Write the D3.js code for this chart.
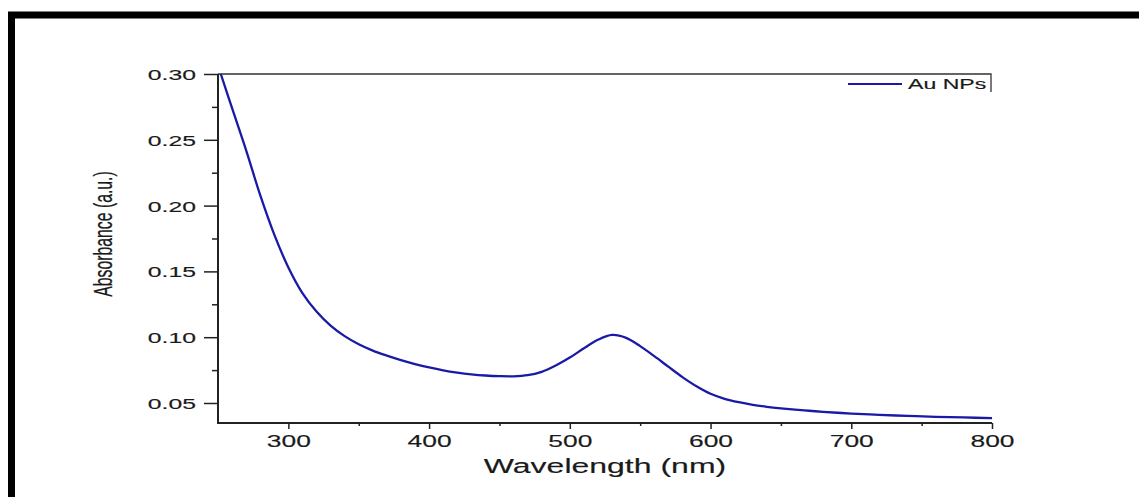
<!DOCTYPE html>
<html>
<head>
<meta charset="utf-8">
<script src="https://cdn.jsdelivr.net/npm/d3@7"></script>
<style>
  html, body { margin: 0; padding: 0; background: #fff; }
  svg { display: block; font-family: "Liberation Sans", Arial, sans-serif; }
</style>
</head>
<body>
<div id="chart"></div>
<script>
// spectrum
const wavelengths = [252, 260, 270, 280, 290, 300, 310, 320, 330, 340, 350, 360, 370, 380, 390, 400,
  410, 420, 430, 440, 450, 460, 470, 480, 490, 500, 510, 520, 530, 540, 550, 560, 570, 580, 590, 600,
  610, 620, 630, 640, 650, 660, 670, 680, 690, 700, 720, 740, 760, 780, 800];
const absorbance = [0.300, 0.274, 0.242, 0.208, 0.178, 0.153, 0.1335, 0.1195, 0.1088, 0.1008, 0.0946,
  0.0898, 0.0860, 0.0826, 0.0796, 0.0770, 0.0748, 0.0731, 0.0718, 0.0709, 0.0704, 0.0703, 0.0711,
  0.0737, 0.0785, 0.0845, 0.0916, 0.0980, 0.1017, 0.0995, 0.0932, 0.0856, 0.0776, 0.0697, 0.0627,
  0.0570, 0.0532, 0.0506, 0.0486, 0.0471, 0.0459, 0.0449, 0.0441, 0.0433, 0.0426, 0.0420, 0.0410,
  0.0402, 0.0395, 0.0390, 0.0385];

const xTicks = [300, 400, 500, 600, 700, 800];
const xMinorTicks = [350, 450, 550, 650, 750];
const yTicks = [0.05, 0.10, 0.15, 0.20, 0.25, 0.30];
const yMinorTicks = [0.075, 0.125, 0.175, 0.225, 0.275];

const seriesLabel = "Au NPs";
const xTitle = "Wavelength (nm)";
const yTitle = "Absorbance (a.u.)";

const width = 1139;
const height = 497;
const SX = 1.65; // the source picture is stretched sideways
const lineColor = "#1a1aa6";
const textColor = "#1a1a1a";

const svg = d3.select("#chart")
  .append("svg")
  .attr("width", width)
  .attr("height", height);

// cropped black frame (top and left only)
svg.append("path")
  .attr("d", `M11.5,497 V15 H1139`)
  .attr("fill", "none")
  .attr("stroke", "#000")
  .attr("stroke-width", 7);

const plot = { left: 218, right: 992, top: 74, bottom: 423 };

const x = d3.scaleLinear().domain([250, 800]).range([plot.left, plot.right]);
const y = d3.scaleLinear().domain([0.0348, 0.30]).range([plot.bottom, plot.top]);

const styleText = (sel, size) => sel
  .attr("fill", textColor)
  .attr("stroke", textColor)
  .attr("stroke-width", 0.15)
  .attr("font-size", size)
  .attr("font-family", "Liberation Sans, Arial, sans-serif");

// frame line at top and the short right edge by the legend
svg.append("path")
  .attr("d", `M${plot.left},${plot.top} H${plot.right - 1} V${plot.top + 18}`)
  .attr("fill", "none")
  .attr("stroke", "#333")
  .attr("stroke-width", 1.3);

// y axis
svg.append("g")
  .attr("transform", `translate(${plot.left},0)`)
  .call(d3.axisLeft(y).tickValues(yTicks).tickSize(14).tickFormat(d3.format(".2f")))
  .call((g) => g.select(".domain").attr("stroke", "#222").attr("stroke-width", 2)
    .attr("d", `M0,${plot.top}V${plot.bottom + 1}`))
  .call((g) => g.selectAll(".tick line").attr("stroke", "#222").attr("stroke-width", 1.5))
  .call((g) => g.selectAll(".tick text")
    .attr("x", -22 / SX)
    .attr("dy", "0.36em")
    .attr("transform", `scale(${SX},1)`)
    .call(styleText, 15));

svg.append("g")
  .attr("transform", `translate(${plot.left},0)`)
  .call(d3.axisLeft(y).tickValues(yMinorTicks).tickSize(6).tickFormat(""))
  .call((g) => g.select(".domain").remove())
  .call((g) => g.selectAll(".tick line").attr("stroke", "#222").attr("stroke-width", 1.5));

// x axis: labels are stretched around their own centre
svg.append("g")
  .attr("transform", `translate(0,${plot.bottom})`)
  .call(d3.axisBottom(x).tickValues(xTicks).tickSize(6).tickFormat(d3.format("d")))
  .call((g) => g.select(".domain").attr("stroke", "#222").attr("stroke-width", 2)
    .attr("d", `M${plot.left - 1},0H${plot.right}`))
  .call((g) => g.selectAll(".tick line").attr("stroke", "#222").attr("stroke-width", 1.5))
  .call((g) => g.selectAll(".tick text")
    .attr("y", 12.6)
    .attr("x", 0)
    .attr("transform", `scale(${SX},1)`)
    .call(styleText, 16));

svg.append("g")
  .attr("transform", `translate(0,${plot.bottom})`)
  .call(d3.axisBottom(x).tickValues(xMinorTicks).tickSize(3).tickFormat(""))
  .call((g) => g.select(".domain").remove())
  .call((g) => g.selectAll(".tick line").attr("stroke", "#222").attr("stroke-width", 1.5));

// axis titles
svg.append("text")
  .attr("transform", `translate(${(plot.left + plot.right) / 2},473) scale(${SX},1)`)
  .attr("text-anchor", "middle")
  .call(styleText, 19.4)
  .text(xTitle);

svg.append("text")
  .attr("transform", `translate(112,234) scale(${SX},1) rotate(-90)`)
  .attr("text-anchor", "middle")
  .call(styleText, 15.8)
  .text(yTitle);

// spectrum
const points = wavelengths.map((w, i) => ({ w, a: absorbance[i] }));

const line = d3.line()
  .x((d) => x(d.w))
  .y((d) => y(d.a))
  .curve(d3.curveCatmullRom.alpha(0.5));

svg.append("path")
  .datum(points)
  .attr("fill", "none")
  .attr("stroke", lineColor)
  .attr("stroke-width", 2.3)
  .attr("stroke-linejoin", "round")
  .attr("d", line);

// legend
const legend = svg.append("g").attr("transform", "translate(848,84)");
legend.append("line")
  .attr("x1", 0).attr("x2", 54)
  .attr("y1", 0).attr("y2", 0)
  .attr("stroke", lineColor)
  .attr("stroke-width", 1.8);
legend.append("text")
  .attr("transform", `translate(60,5) scale(${SX},1)`)
  .call(styleText, 14)
  .text(seriesLabel);
</script>
</body>
</html>
